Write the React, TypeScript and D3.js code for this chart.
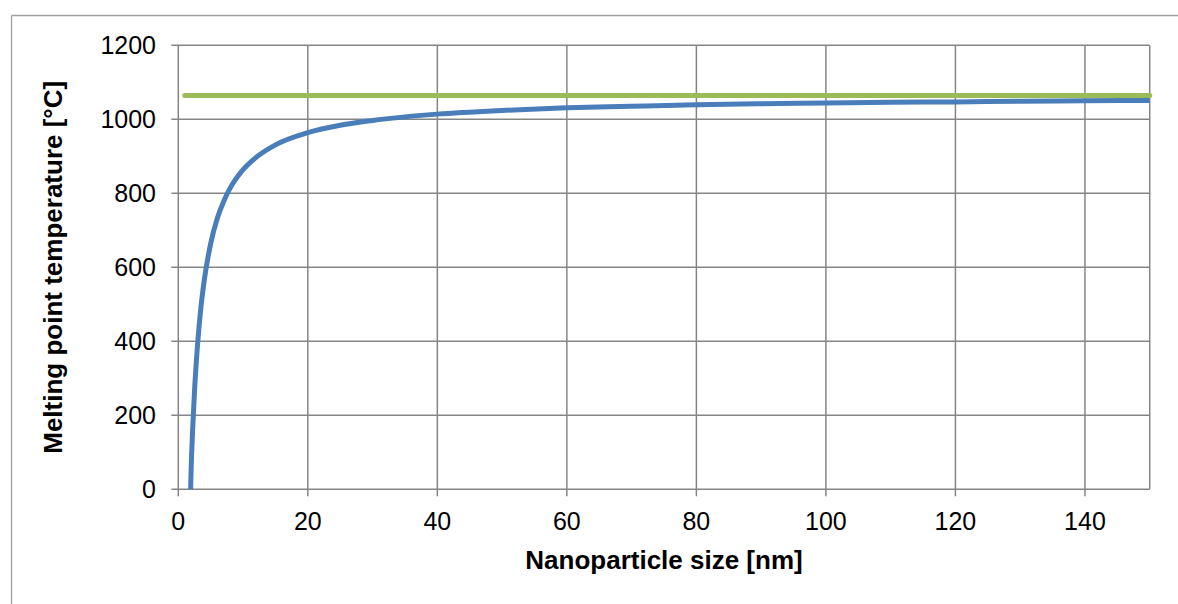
import React from "react";
import * as d3 from "d3";

const sizes = [1.9, 2, 2.2, 2.5, 3, 3.5, 4, 5, 6, 7, 8, 10, 12, 15, 20, 25, 30, 40, 50, 60, 70, 80, 90, 100, 110, 120, 130, 140, 150];
const meltTemps = [0, 64, 155, 264, 397, 493, 564, 664, 731, 778, 814, 864, 897, 931, 964, 984, 997, 1014, 1024, 1031, 1035, 1039, 1042, 1044, 1046, 1047, 1049, 1050, 1051];
const bulkSizes = [1, 150];
const bulkTemps = [1064, 1064];
const xTicks = [0, 20, 40, 60, 80, 100, 120, 140];
const yTicks = [0, 200, 400, 600, 800, 1000, 1200];

const W = 1178;
const H = 604;
const L = 178.3;
const R = 1149.7;
const T = 45.3;
const B = 489.3;
const FONT = "'Liberation Sans', Arial, sans-serif";

export default function App() {
  const x = d3.scaleLinear().domain([0, 150]).range([L, R]);
  const y = d3.scaleLinear().domain([0, 1200]).range([B, T]);
  const line = d3
    .line<[number, number]>()
    .x((d) => x(d[0]))
    .y((d) => y(d[1]))
    .curve(d3.curveMonotoneX);
  const blue = line(sizes.map((s, i) => [s, meltTemps[i]] as [number, number])) || "";
  const green = d3
    .line<[number, number]>()
    .x((d) => x(d[0]))
    .y((d) => y(d[1]))(bulkSizes.map((s, i) => [s, bulkTemps[i]] as [number, number])) || "";
  const grid = "#858585";
  return (
    <div style={{ position: "absolute", left: 0, top: 0 }}>
      <svg width={W} height={H} style={{ display: "block", background: "#fff" }}>
        <line x1={11.5} y1={15.5} x2={W + 5} y2={15.5} stroke="#a0a0a0" strokeWidth={1.3} />
        <line x1={11.5} y1={15.5} x2={11.5} y2={H + 5} stroke="#a0a0a0" strokeWidth={1.3} />
        {xTicks.map((t) => (
          <line key={"gx" + t} x1={x(t)} x2={x(t)} y1={T} y2={B + 7} stroke={grid} strokeWidth={1.5} />
        ))}
        <line x1={R} x2={R} y1={T} y2={B} stroke={grid} strokeWidth={1.5} />
        {yTicks.map((t) => (
          <line key={"gy" + t} x1={L - 7} x2={R} y1={y(t)} y2={y(t)} stroke={grid} strokeWidth={1.5} />
        ))}
        <path d={green} fill="none" stroke="#9bbb59" strokeWidth={5} strokeLinecap="round" />
        <path d={blue} fill="none" stroke="#4a7ebb" strokeWidth={5} strokeLinejoin="round" />
        {xTicks.map((t) => (
          <text key={"tx" + t} x={x(t)} y={B + 41} textAnchor="middle" fontFamily={FONT} fontSize={25} fill="#000">
            {t}
          </text>
        ))}
        {yTicks.map((t) => (
          <text key={"ty" + t} x={156} y={y(t) + 9} textAnchor="end" fontFamily={FONT} fontSize={25} fill="#000">
            {t}
          </text>
        ))}
        <text x={(L + R) / 2} y={569} textAnchor="middle" fontFamily={FONT} fontSize={26} fontWeight="bold" fill="#000">
          Nanoparticle size [nm]
        </text>
        <text
          transform={`translate(62, ${(T + B) / 2}) rotate(-90)`}
          textAnchor="middle"
          fontFamily={FONT}
          fontSize={26}
          fontWeight="bold"
          fill="#000"
        >
          Melting point temperature [°C]
        </text>
      </svg>
    </div>
  );
}
